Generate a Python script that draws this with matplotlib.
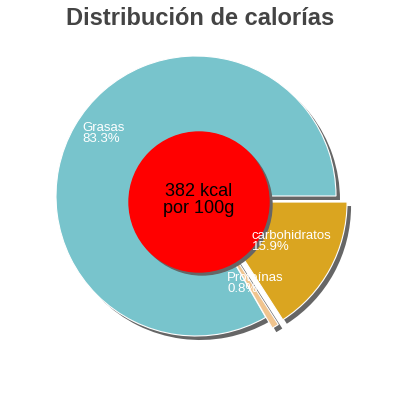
import matplotlib.pyplot as plt
from matplotlib.patches import Circle

labels = ["Grasas", "Proteínas", "carbohidratos"]
percents = [83.3, 0.8, 15.9]
colors = ["#78C4CC", "#F0C48E", "#DAA520"]
energy_text = "382 kcal\npor 100g"
title = "Distribución de calorías"

# label anchor points in pixels (left edge, baseline of first line) from top-left
label_pos = [(82, 142), (227, 292), (252, 250)]

fig = plt.figure(figsize=(4, 4), dpi=100)
fig.patch.set_facecolor("white")
ax = fig.add_axes([0, 0, 1, 1])

cx, cy, r = 196, 400 - 196, 140
explode = [0, 0.09 * r, 0.09 * r]  # pie offsets in data units

# shadow
ax.pie(percents, colors=["#666666"] * 3, startangle=0, counterclock=True,
       explode=explode, center=(cx + 4, cy - 4), radius=r,
       wedgeprops=dict(linewidth=0), frame=True)
ax.pie(percents, colors=colors, startangle=0, counterclock=True,
       explode=explode, center=(cx, cy), radius=r,
       wedgeprops=dict(linewidth=0.8, edgecolor="white"), frame=True)
ax.set_xlim(0, 400)
ax.set_ylim(0, 400)
ax.set_aspect("equal")
ax.axis("off")

ax.add_patch(Circle((cx + 6, cy - 9), 70, color="#666666", zorder=5))
ax.add_patch(Circle((cx + 3, cy - 6), 70, color="#FF0000", zorder=6))
ax.text(cx + 3, cy - 4, energy_text, ha="center", va="center", fontsize=13,
        family="Liberation Sans", color="black", linespacing=1.05, zorder=7)

for lab, pct, (px, py) in zip(labels, percents, label_pos):
    ax.text(px, 400 - py, f"{lab}\n{pct}%", ha="left", va="baseline",
            fontsize=9.5, family="Liberation Sans", color="white",
            linespacing=0.9, zorder=8)

fig.text(0.5, 1 - 25 / 400, title, ha="center", va="baseline", fontsize=17,
         family="Liberation Sans", fontweight="bold", color="#444444")

fig.savefig("out.png", dpi=100)
